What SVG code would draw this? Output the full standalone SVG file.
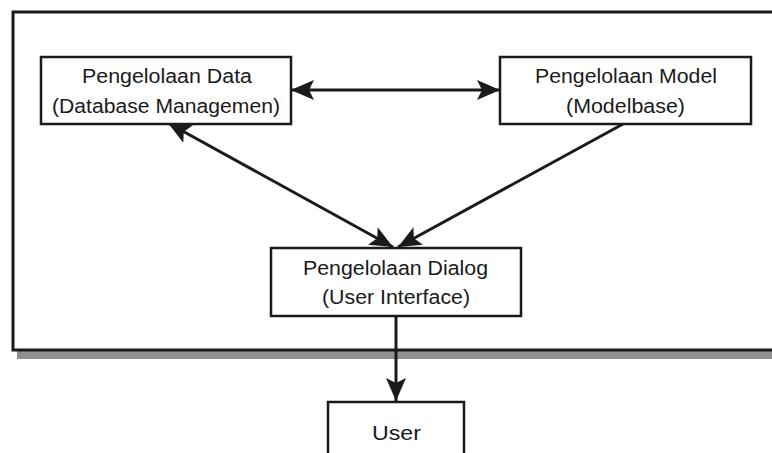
<svg xmlns="http://www.w3.org/2000/svg" width="772" height="453" viewBox="0 0 772 453">
  <style>
    .box { fill: #ffffff; stroke: #1a1a1a; stroke-width: 2.5; }
    .lbl { font-family: "Liberation Sans", Arial, sans-serif; font-size: 20px; fill: #1a1a1a; text-anchor: middle; }
    .conn { stroke: #1a1a1a; stroke-width: 3; fill: none; }
  </style>
  <defs>
    <marker id="arr" markerUnits="userSpaceOnUse" markerWidth="26" markerHeight="22" refX="23" refY="10" orient="auto-start-reverse" viewBox="0 0 26 22">
      <path d="M0,0 L23,10 L0,20 L5,10 z" fill="#1a1a1a"/>
    </marker>
  </defs>
  <rect width="772" height="453" fill="#ffffff"/>
  <g id="frame">
    <rect x="17" y="350" width="760" height="9" fill="#8f8f8f"/>
    <rect x="13" y="12" width="770" height="338" fill="#ffffff" stroke="#1a1a1a" stroke-width="3"/>
  </g>
  <g id="connectors">
    <line class="conn" x1="291" y1="90" x2="500" y2="90" marker-start="url(#arr)" marker-end="url(#arr)"/>
    <line class="conn" x1="168" y1="123" x2="393" y2="247" marker-start="url(#arr)" marker-end="url(#arr)"/>
    <line class="conn" x1="623" y1="124" x2="398" y2="247" marker-end="url(#arr)"/>
    <line class="conn" x1="396" y1="316" x2="396" y2="401" marker-end="url(#arr)"/>
  </g>
  <g id="data">
    <rect class="box" x="41" y="57" width="250" height="67"/>
    <text class="lbl" x="167" y="83" textLength="170" lengthAdjust="spacingAndGlyphs">Pengelolaan Data</text>
    <text class="lbl" x="166" y="113" textLength="228" lengthAdjust="spacingAndGlyphs">(Database Managemen)</text>
  </g>
  <g id="model">
    <rect class="box" x="500" y="57" width="251" height="67"/>
    <text class="lbl" x="626" y="83" textLength="182" lengthAdjust="spacingAndGlyphs">Pengelolaan Model</text>
    <text class="lbl" x="625.5" y="113" textLength="119" lengthAdjust="spacingAndGlyphs">(Modelbase)</text>
  </g>
  <g id="dialog">
    <rect class="box" x="271" y="248" width="250" height="68"/>
    <text class="lbl" x="395.5" y="275" textLength="185" lengthAdjust="spacingAndGlyphs">Pengelolaan Dialog</text>
    <text class="lbl" x="396" y="304" textLength="148" lengthAdjust="spacingAndGlyphs">(User Interface)</text>
  </g>
  <g id="user">
    <rect class="box" x="328" y="402" width="136" height="70"/>
    <text class="lbl" x="396.5" y="440" textLength="49" lengthAdjust="spacingAndGlyphs">User</text>
  </g>
</svg>
